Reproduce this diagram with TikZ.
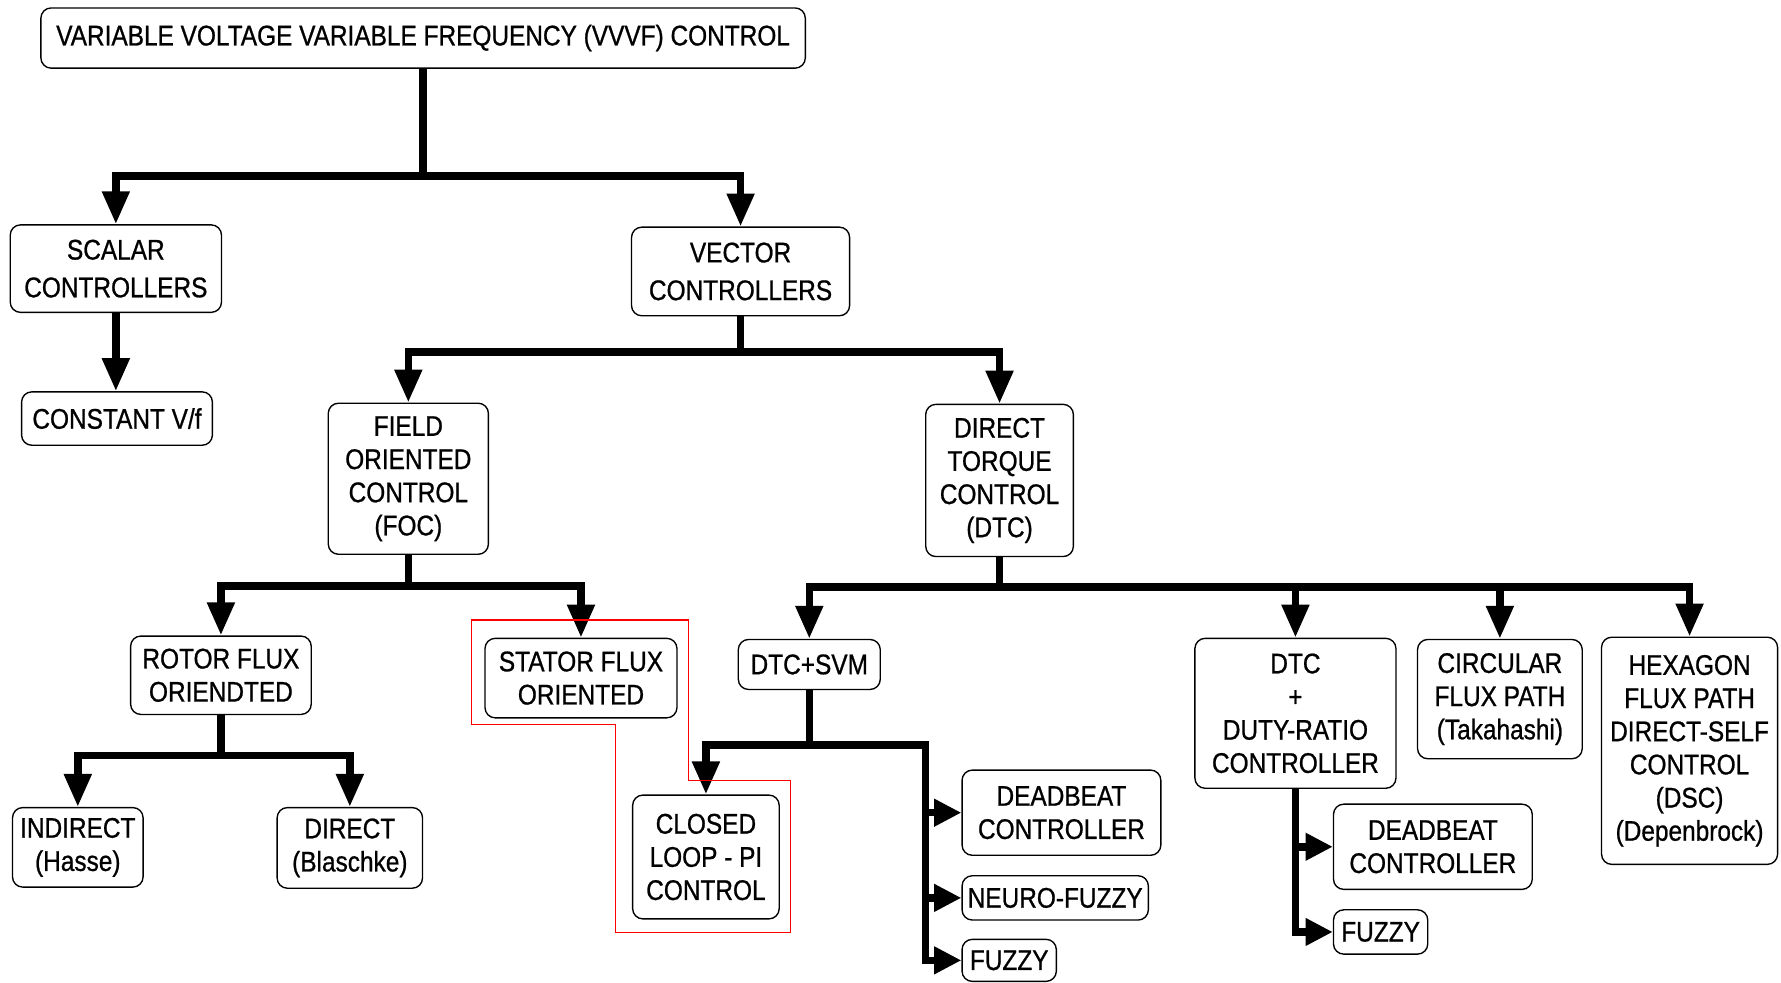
\documentclass[tikz,border=0pt]{standalone}
\usepackage{fontspec}
\setmainfont[FakeStretch=0.86,FakeBold=0.8]{Liberation Sans}
\usetikzlibrary{arrows.meta}
\tikzset{
  blk/.style={draw, line width=0.6pt, rounded corners=4.5pt, align=center,
    inner sep=0pt, font=\fontsize{12.5}{14.6}\selectfont},
  bar/.style={line width=3.3pt, line join=miter},
  arr/.style={bar, -{Triangle[length=14.5pt,width=11.5pt]}},
  sidearr/.style={bar, -{Triangle[length=12pt,width=11.5pt]}}
}
\begin{document}
\begin{tikzpicture}[x=0.5pt,y=-0.5pt]
  \useasboundingbox (0,0) rectangle (1568,865);
  \node[blk, minimum width=336.5pt, minimum height=26.5pt] (vvvf) at (372.5,33.5) {VARIABLE VOLTAGE VARIABLE FREQUENCY (VVVF) CONTROL};
  \node[blk, minimum width=93pt, minimum height=38.5pt] (scalar) at (102,236.5) {SCALAR\\[2pt]CONTROLLERS};
  \node[blk, minimum width=96pt, minimum height=39pt] (vector) at (652,239) {VECTOR\\[2pt]CONTROLLERS};
  \node[blk, minimum width=84pt, minimum height=23.5pt] (constvf) at (103,368.5) {CONSTANT V/f};
  \node[blk, minimum width=70.5pt, minimum height=66.5pt] (foc) at (359.5,421.5) {FIELD\\ORIENTED\\CONTROL\\(FOC)};
  \node[blk, minimum width=65pt, minimum height=67pt] (dtc) at (880,423) {DIRECT\\TORQUE\\CONTROL\\(DTC)};
  \node[blk, minimum width=79.5pt, minimum height=34.5pt] (rotor) at (194.5,594.5) {ROTOR FLUX\\ORIENDTED};
  \node[blk, minimum width=84.5pt, minimum height=35pt] (stator) at (511.5,597) {STATOR FLUX\\ORIENTED};
  \node[blk, minimum width=57.5pt, minimum height=35pt] (indirect) at (68.5,746) {INDIRECT\\(Hasse)};
  \node[blk, minimum width=64pt, minimum height=35.5pt] (direct) at (308,746.5) {DIRECT\\(Blaschke)};
  \node[blk, minimum width=62.5pt, minimum height=22pt] (svm) at (712.5,585) {DTC+SVM};
  \node[blk, minimum width=64.5pt, minimum height=54.5pt] (closed) at (621.5,754.5) {CLOSED\\LOOP - PI\\CONTROL};
  \node[blk, minimum width=87.5pt, minimum height=37.5pt] (deadA) at (934.5,715.5) {DEADBEAT\\CONTROLLER};
  \node[blk, minimum width=82pt, minimum height=19.5pt] (neuro) at (929,790.5) {NEURO-FUZZY};
  \node[blk, minimum width=41.5pt, minimum height=18.5pt] (fuzzyA) at (888.5,845.5) {FUZZY};
  \node[blk, minimum width=88.5pt, minimum height=66pt] (duty) at (1140.5,628) {DTC\\+\\DUTY-RATIO\\CONTROLLER};
  \node[blk, minimum width=87.5pt, minimum height=37.5pt] (deadB) at (1261.5,745.5) {DEADBEAT\\CONTROLLER};
  \node[blk, minimum width=41.5pt, minimum height=19.5pt] (fuzzyB) at (1215.5,820.5) {FUZZY};
  \node[blk, minimum width=72.5pt, minimum height=52.5pt] (circular) at (1320.5,615.5) {CIRCULAR\\FLUX PATH\\(Takahashi)};
  \node[blk, minimum width=77.5pt, minimum height=100pt] (hexagon) at (1487.5,661) {HEXAGON\\FLUX PATH\\DIRECT-SELF\\CONTROL\\(DSC)\\(Depenbrock)};

  \coordinate (topbar) at (372.5,155);
  \coordinate (vecbar) at (652,310);
  \coordinate (focbar) at (359.5,516);
  \coordinate (dtcbar) at (880,517);
  \coordinate (rotbar) at (194.5,665);
  \coordinate (svmbar) at (712.5,656);
  \coordinate (svmrail) at (815,656);

  \draw[bar] (vvvf.south) -- (topbar);
  \draw[arr] (topbar) -| (scalar.north);
  \draw[arr] (topbar) -| (vector.north);
  \draw[arr] (scalar.south) -- (scalar.south |- constvf.north);

  \draw[bar] (vector.south) -- (vecbar);
  \draw[arr] (vecbar) -| (foc.north);
  \draw[arr] (vecbar) -| (dtc.north);

  \draw[bar] (foc.south) -- (focbar);
  \draw[arr] (focbar) -| (rotor.north);
  \draw[arr] (focbar) -| (stator.north);

  \draw[bar] (rotor.south) -- (rotbar);
  \draw[arr] (rotbar) -| (indirect.north);
  \draw[arr] (rotbar) -| (direct.north);

  \draw[bar] (dtc.south) -- (dtcbar);
  \draw[arr] (dtcbar) -| (svm.north);
  \draw[arr] (dtcbar) -| (duty.north);
  \draw[arr] (dtcbar) -| (circular.north);
  \draw[arr] (dtcbar) -| (hexagon.north);

  \draw[bar] (svm.south) -- (svmbar);
  \draw[arr] (svmbar) -| (closed.north);
  \draw[sidearr] (svmbar) -- (svmrail) |- (fuzzyA.west);
  \draw[sidearr] (svmrail |- deadA.west) -- (deadA.west);
  \draw[sidearr] (svmrail |- neuro.west) -- (neuro.west);

  \draw[sidearr] (duty.south) |- (fuzzyB.west);
  \draw[sidearr] (duty.south |- deadB.west) -- (deadB.west);

  \draw[red, line width=0.6pt] (415,546) -- (606,546) -- (606,687) -- (696,687)
    -- (696,821) -- (542,821) -- (542,638) -- (415,638) -- cycle;
\end{tikzpicture}
\end{document}
